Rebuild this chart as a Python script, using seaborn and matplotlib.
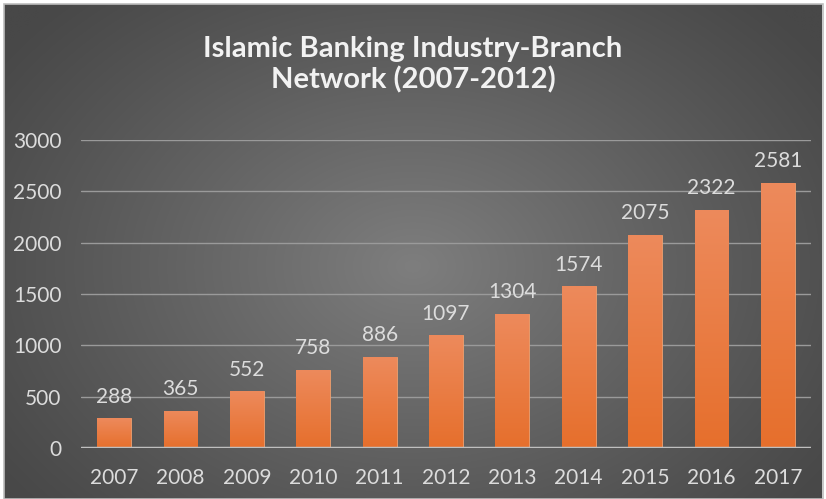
import numpy as np
import pandas as pd
import matplotlib
matplotlib.use("Agg")
import matplotlib.pyplot as plt
import seaborn as sns
from matplotlib.patches import Rectangle

years = ["2007", "2008", "2009", "2010", "2011", "2012",
         "2013", "2014", "2015", "2016", "2017"]
branches = [288, 365, 552, 758, 886, 1097, 1304, 1574, 2075, 2322, 2581]
y_ticks = [0, 500, 1000, 1500, 2000, 2500, 3000]
title = "Islamic Banking Industry-Branch\nNetwork (2007-2012)"

df = pd.DataFrame({"year": years, "branches": branches})

sns.set_theme(style="white")
plt.rcParams["font.family"] = ["Lato", "DejaVu Sans"]

W, H, DPI = 826, 499, 100
fig = plt.figure(figsize=(W / DPI, H / DPI), dpi=DPI)
fig.patch.set_facecolor("white")

# radial grey backdrop
bg = fig.add_axes([4 / W, 0, 1 - 8 / W, 1 - 4 / H], zorder=0)
yy, xx = np.mgrid[0:1:300j, 0:1:500j]
cx, cy = 0.5, 0.47
r = np.sqrt(((xx - cx) / 0.62) ** 2 + ((yy - cy) / 0.75) ** 2)
shade = np.clip(1 - r, 0, 1) ** 1.1
lo, hi = 0x48 / 255, 0x7e / 255
val = lo + (hi - lo) * shade
bg.imshow(np.dstack([val, val, val]), aspect="auto", extent=[0, 1, 0, 1],
          origin="lower", interpolation="bilinear")
bg.set_xlim(0, 1)
bg.set_ylim(0, 1)
bg.axis("off")
fig.add_artist(Rectangle((3.5 / W, 0), 1 - 7 / W, 1 - 3.5 / H,
                         transform=fig.transFigure, fill=False,
                         edgecolor="#bdbdbd", linewidth=1.2, zorder=1))

# plotting area
left, right = 81 / W, 811 / W
bottom, top = 1 - 448 / H, 1 - 140 / H
ax = fig.add_axes([left, bottom, right - left, top - bottom], zorder=2)
ax.patch.set_alpha(0)

sns.barplot(data=df, x="year", y="branches", color="#ed7d31",
            width=0.51, ax=ax, zorder=3)

ax.set_ylim(0, 3000)
ax.set_xlim(-0.5, len(years) - 0.5)
ax.set_yticks(y_ticks)
ax.set_yticklabels([str(t) for t in y_ticks])
ax.set_xlabel("")
ax.set_ylabel("")
for t in y_ticks[1:]:
    ax.axhline(t, color="#9a9a9a", linewidth=1.0, zorder=1)
ax.axhline(0, color="#bfbfbf", linewidth=2.5, zorder=4)
for s in ax.spines.values():
    s.set_visible(False)
ax.tick_params(axis="both", length=0, labelsize=15, colors="#dcdcdc")
ax.tick_params(axis="y", pad=14)
ax.tick_params(axis="x", pad=14.5)

# vertical orange gradient on each bar
grad = np.linspace(0, 1, 256).reshape(-1, 1)
c_bot = np.array([0xe6, 0x6f, 0x2c]) / 255
c_top = np.array([0xed, 0x8a, 0x5c]) / 255
img = c_bot[None, None, :] + (c_top - c_bot)[None, None, :] * grad[:, :, None]
for patch, v in zip(ax.patches, branches):
    x0 = patch.get_x()
    w = patch.get_width()
    h = patch.get_height()
    patch.set_edgecolor("#f0a070")
    patch.set_linewidth(0.6)
    im = ax.imshow(img, extent=[x0, x0 + w, 0, h], origin="lower",
                   aspect="auto", zorder=3.5, interpolation="bilinear")
    im.set_clip_path(patch)
    ax.text(x0 + w / 2, h + 115, f"{v}", ha="center", va="bottom",
            fontsize=15, color="#dcdcdc", zorder=5)
ax.set_xlim(-0.5, len(years) - 0.5)
ax.set_ylim(0, 3000)

fig.text(0.5, 1 - 65 / H, title, ha="center", va="center",
         fontsize=21, fontweight="bold", color="#f2f2f2",
         linespacing=1.2)

fig.savefig("out.png", dpi=DPI, facecolor=fig.get_facecolor())
